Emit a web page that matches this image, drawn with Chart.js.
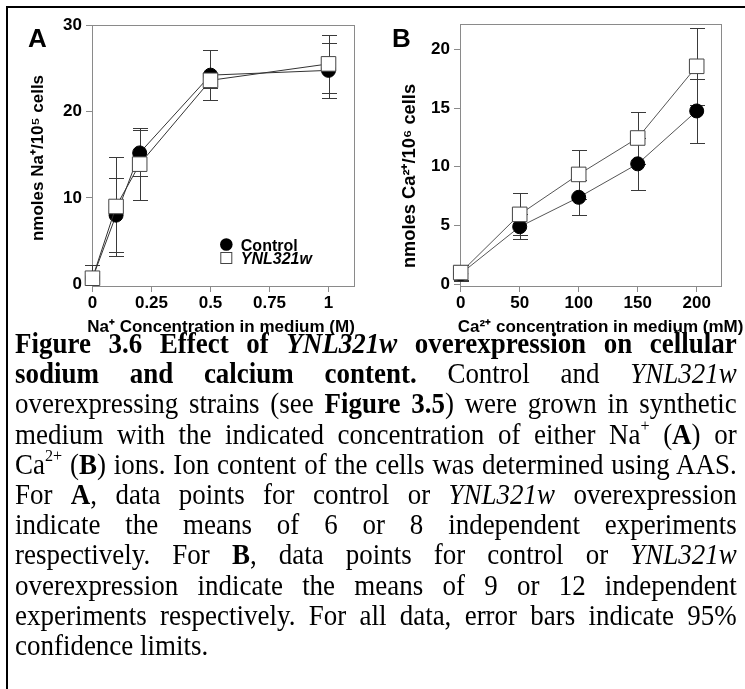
<!DOCTYPE html>
<html>
<head>
<meta charset="utf-8">
<script src="https://cdn.jsdelivr.net/npm/chart.js@4.4.1/dist/chart.umd.min.js"></script>
<style>
  body { margin: 0; background: #fff; width: 745px; height: 689px; overflow: hidden; position: relative; }
  #frame { position: absolute; left: 6px; top: 6px; width: 760px; height: 700px; border-top: 2px solid #000; border-left: 2px solid #000; }
  canvas { position: absolute; top: 0; }
  #chartA { left: 0; }
  #chartB { left: 372px; }
  #caption { position: absolute; left: 15px; top: 328px; width: 776px; transform: scaleX(0.93); transform-origin: 0 0;
             font-family: "Liberation Serif", "Times New Roman", serif; font-size: 29px; line-height: 30.2px; color: #000; }
  #caption div { text-align: justify; text-align-last: justify; white-space: nowrap; }
  #caption div.last { text-align-last: left; }
  #caption sup { font-size: 60%; line-height: 0; vertical-align: 0.75em; }
</style>
</head>
<body>
<div id="frame"></div>
<canvas id="chartA" width="372" height="350"></canvas>
<canvas id="chartB" width="373" height="350"></canvas>
<div id="caption">
  <div><b>Figure 3.6 Effect of <i>YNL321w</i> overexpression on cellular</b></div>
  <div><b>sodium and calcium content.</b> Control and <i>YNL321w</i></div>
  <div>overexpressing strains (see <b>Figure 3.5</b>) were grown in synthetic</div>
  <div>medium with the indicated concentration of either Na<sup>+</sup> (<b>A</b>) or</div>
  <div>Ca<sup>2+</sup> (<b>B</b>) ions. Ion content of the cells was determined using AAS.</div>
  <div>For <b>A</b>, data points for control or <i>YNL321w</i> overexpression</div>
  <div>indicate the means of 6 or 8 independent experiments</div>
  <div>respectively. For <b>B</b>, data points for control or <i>YNL321w</i></div>
  <div>overexpression indicate the means of 9 or 12 independent</div>
  <div>experiments respectively. For all data, error bars indicate 95%</div>
  <div class="last">confidence limits.</div>
</div>
<script>
// Panel A: Na+ content
const naConc = [0, 0.1, 0.2, 0.5, 1];
const naControl = [0.7, 8.0, 15.2, 24.2, 24.75];
const naControlErr = [1.5, 4.3, 2.7, 2.9, 3.2];
const naYnl = [0.7, 9.0, 13.9, 23.6, 25.5];
const naYnlErr = [1.5, 5.7, 4.15, 0.9, 3.4];
const naTicksX = [0, 0.25, 0.5, 0.75, 1];
const naTicksY = [0, 10, 20, 30];

// Panel B: Ca2+ content
const caConc = [0, 50, 100, 150, 200];
const caControl = [0.9, 4.9, 7.4, 10.25, 14.75];
const caControlErr = [0.6, 1.07, 1.47, 2.2, 2.72];
const caYnl = [1.0, 5.95, 9.35, 12.45, 18.55];
const caYnlErr = [0.6, 1.78, 2.07, 2.25, 3.3];
const caTicksX = [0, 50, 100, 150, 200];
const caTicksY = [0, 5, 10, 15, 20];

const seriesNames = ['Control', 'YNL321w'];
const FONT = '"Liberation Sans", Arial, Helvetica, sans-serif';

function points(xs, ys) {
    return xs.map((x, i) => ({ x: x, y: ys[i] }));
}

// box round the plot area
const plotBox = {
    id: 'plotBox',
    beforeDatasetsDraw(chart) {
        const { ctx, chartArea: a } = chart;
        ctx.save();
        ctx.strokeStyle = '#8a8a8a';
        ctx.lineWidth = 1;
        ctx.strokeRect(Math.round(a.left) + 0.5, Math.round(a.top) + 0.5,
            Math.round(a.right - a.left), Math.round(a.bottom - a.top));
        ctx.restore();
    }
};

// symmetric error bars with caps, under the markers
const errorBars = {
    id: 'errorBars',
    beforeDatasetsDraw(chart) {
        const { ctx, chartArea: a, scales } = chart;
        ctx.save();
        ctx.beginPath();
        ctx.rect(a.left - 20, a.top - 20, a.right - a.left + 40, a.bottom - a.top + 20);
        ctx.clip();
        ctx.strokeStyle = '#3a3a3a';
        ctx.lineWidth = 1;
        chart.data.datasets.forEach(ds => {
            ds.data.forEach((p, i) => {
                const e = ds.errors[i];
                const px = Math.round(scales.x.getPixelForValue(p.x)) + 0.5;
                const top = Math.round(scales.y.getPixelForValue(p.y + e)) + 0.5;
                const bot = Math.round(scales.y.getPixelForValue(p.y - e)) + 0.5;
                ctx.beginPath();
                ctx.moveTo(px, top); ctx.lineTo(px, bot);
                ctx.moveTo(px - 7.5, top); ctx.lineTo(px + 7.5, top);
                ctx.moveTo(px - 7.5, bot); ctx.lineTo(px + 7.5, bot);
                ctx.stroke();
            });
        });
        ctx.restore();
    }
};

// axis titles and panel letter, placed by hand like the original figure
const figureText = {
    id: 'figureText',
    afterDraw(chart, args, opts) {
        const ctx = chart.ctx;
        ctx.save();
        ctx.fillStyle = '#000';
        ctx.font = 'bold 26px ' + FONT;
        ctx.textAlign = 'left';
        ctx.textBaseline = 'alphabetic';
        ctx.fillText(opts.letter.text, opts.letter.x, opts.letter.y);

        ctx.font = 'bold 17px ' + FONT;
        ctx.textAlign = 'center';
        ctx.fillText(opts.xTitle.text, opts.xTitle.x, opts.xTitle.y);

        ctx.font = 'bold ' + opts.yTitle.size + 'px ' + FONT;
        ctx.translate(opts.yTitle.x, opts.yTitle.y);
        ctx.rotate(-Math.PI / 2);
        ctx.fillText(opts.yTitle.text, 0, 0);
        ctx.restore();
    }
};

// legend inside panel A
const insetLegend = {
    id: 'insetLegend',
    afterDraw(chart, args, opts) {
        if (!opts.show) return;
        const ctx = chart.ctx;
        ctx.save();
        ctx.fillStyle = '#000';
        ctx.beginPath();
        ctx.arc(opts.x, opts.y, 6.3, 0, Math.PI * 2);
        ctx.fill();
        ctx.strokeStyle = '#444';
        ctx.lineWidth = 1;
        ctx.fillStyle = '#fff';
        ctx.fillRect(opts.x - 5.5, opts.y + 8, 11, 11);
        ctx.strokeRect(opts.x - 5.5, opts.y + 8, 11, 11);
        ctx.fillStyle = '#000';
        ctx.textAlign = 'left';
        ctx.textBaseline = 'alphabetic';
        ctx.font = 'bold 16px ' + FONT;
        ctx.fillText(seriesNames[0], opts.x + 14.5, opts.y + 6);
        ctx.font = 'italic bold 16px ' + FONT;
        ctx.fillText(seriesNames[1], opts.x + 14.5, opts.y + 19.5);
        ctx.restore();
    }
};

function axis(min, max, tickValues, size, horizontal) {
    return {
        type: 'linear',
        min: min,
        max: max,
        afterBuildTicks: s => { s.ticks = tickValues.map(v => ({ value: v })); },
        afterFit: s => { if (horizontal) s.height = size; else s.width = size; },
        ticks: {
            color: '#000',
            font: { family: FONT, size: 17, weight: 'bold' },
            padding: horizontal ? 1 : 4,
            autoSkip: false,
            maxRotation: 0,
            callback: v => String(v)
        },
        grid: { drawOnChartArea: false, drawTicks: true, tickLength: 6, color: '#8a8a8a', lineWidth: 1 },
        border: { display: false },
        title: { display: false }
    };
}

function makeChart(id, cfg) {
    return new Chart(document.getElementById(id), {
        type: 'line',
        data: {
            datasets: [{
                label: seriesNames[0],
                data: points(cfg.xs, cfg.control),
                errors: cfg.controlErr,
                order: 1,
                borderColor: cfg.lineColor,
                borderWidth: 1,
                pointStyle: 'circle',
                pointRadius: 7,
                pointBackgroundColor: '#000',
                pointBorderColor: '#000',
                pointBorderWidth: 1,
                tension: 0,
                clip: false
            }, {
                label: seriesNames[1],
                data: points(cfg.xs, cfg.ynl),
                errors: cfg.ynlErr,
                order: 0,
                borderColor: cfg.lineColor,
                borderWidth: 1,
                pointStyle: 'rect',
                pointRadius: 10.3,
                pointBackgroundColor: '#fff',
                pointBorderColor: '#444',
                pointBorderWidth: 1,
                tension: 0,
                clip: false
            }]
        },
        options: {
            responsive: false,
            animation: false,
            devicePixelRatio: 1,
            layout: { padding: { left: 0, top: cfg.padTop, right: cfg.padRight, bottom: 0 } },
            scales: {
                x: axis(cfg.xMin, cfg.xMax, cfg.ticksX, 64, true),
                y: axis(cfg.yMin, cfg.yMax, cfg.ticksY, cfg.yWidth, false)
            },
            plugins: {
                legend: { display: false },
                tooltip: { enabled: false },
                figureText: cfg.text,
                insetLegend: cfg.legend
            }
        },
        plugins: [plotBox, errorBars, figureText, insetLegend]
    });
}

makeChart('chartA', {
    xs: naConc, control: naControl, controlErr: naControlErr, ynl: naYnl, ynlErr: naYnlErr,
    ticksX: naTicksX, ticksY: naTicksY,
    xMin: -0.002, xMax: 1.108, yMin: -0.2, yMax: 30,
    yWidth: 92, padTop: 25, padRight: 18,
    lineColor: '#333',
    text: {
        letter: { text: 'A', x: 28, y: 47 },
        xTitle: { text: 'Na⁺ Concentration in medium (M)', x: 221, y: 332 },
        yTitle: { text: 'nmoles Na⁺/10⁵ cells', x: 43, y: 158, size: 17 }
    },
    legend: { show: true, x: 226.3, y: 244.5 }
});

makeChart('chartB', {
    xs: caConc, control: caControl, controlErr: caControlErr, ynl: caYnl, ynlErr: caYnlErr,
    ticksX: caTicksX, ticksY: caTicksY,
    xMin: -0.6, xMax: 220.6, yMin: -0.145, yMax: 22.15,
    yWidth: 88, padTop: 24, padRight: 24,
    lineColor: '#555',
    text: {
        letter: { text: 'B', x: 20, y: 47 },
        xTitle: { text: 'Ca²⁺ concentration in medium (mM)', x: 228.6, y: 332 },
        yTitle: { text: 'nmoles Ca²⁺/10⁶ cells', x: 43, y: 176, size: 18.3 }
    },
    legend: { show: false }
});
</script>
</body>
</html>
